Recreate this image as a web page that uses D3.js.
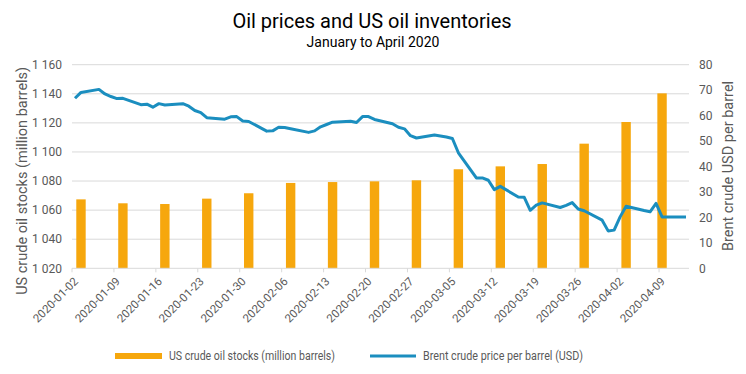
<!DOCTYPE html>
<html lang="en">
<head>
    <meta charset="UTF-8">
    <script src="https://d3js.org/d3.v7.min.js"></script>
    <style>
        body { margin: 0; background: #fff; }
        text { font-family: Roboto, "Noto Sans", sans-serif; }
    </style>
</head>
<body>
    <div id="chart"></div>
    <script>
        // weekly US crude stocks incl. SPR (million barrels)
        var stockDates = ["2020-01-03","2020-01-10","2020-01-17","2020-01-24","2020-01-31",
                          "2020-02-07","2020-02-14","2020-02-21","2020-02-28","2020-03-06",
                          "2020-03-13","2020-03-20","2020-03-27","2020-04-03","2020-04-09"];
        var stocks = [1067.4, 1064.7, 1064.2, 1067.9, 1071.6, 1078.7, 1079.3, 1079.8,
                      1080.5, 1088.1, 1090.1, 1091.7, 1105.7, 1120.6, 1140.3];

        // Brent daily (USD per barrel)
        var priceDates = ["2020-01-02","2020-01-03","2020-01-06","2020-01-07","2020-01-08","2020-01-09","2020-01-10",
                          "2020-01-13","2020-01-14","2020-01-15","2020-01-16","2020-01-17",
                          "2020-01-20","2020-01-21","2020-01-22","2020-01-23","2020-01-24",
                          "2020-01-27","2020-01-28","2020-01-29","2020-01-30","2020-01-31",
                          "2020-02-03","2020-02-04","2020-02-05","2020-02-06","2020-02-07",
                          "2020-02-10","2020-02-11","2020-02-12","2020-02-13","2020-02-14",
                          "2020-02-17","2020-02-18","2020-02-19","2020-02-20","2020-02-21",
                          "2020-02-24","2020-02-25","2020-02-26","2020-02-27","2020-02-28",
                          "2020-03-02","2020-03-03","2020-03-04","2020-03-05","2020-03-06",
                          "2020-03-09","2020-03-10","2020-03-11","2020-03-12","2020-03-13",
                          "2020-03-16","2020-03-17","2020-03-18","2020-03-19","2020-03-20",
                          "2020-03-23","2020-03-24","2020-03-25","2020-03-26","2020-03-27",
                          "2020-03-30","2020-03-31","2020-04-01","2020-04-02","2020-04-03",
                          "2020-04-06","2020-04-07","2020-04-08","2020-04-09","2020-04-13"];
        var prices = [66.8, 69.1, 70.3, 68.5, 67.5, 66.7, 66.8,
                      64.3, 64.5, 63.3, 64.7, 64.2,
                      64.7, 63.7, 62.0, 61.2, 59.2,
                      58.6, 59.5, 59.6, 57.9, 57.7,
                      53.9, 54.0, 55.4, 55.3, 54.8,
                      53.4, 54.0, 55.6, 56.5, 57.4,
                      57.8, 57.3, 59.6, 59.6, 58.5,
                      56.8, 55.4, 54.8, 52.1, 51.2,
                      52.4, 52.0, 51.6, 51.0, 45.4,
                      35.5, 35.5, 34.6, 30.9, 32.2,
                      28.0, 27.9, 22.8, 24.8, 25.7,
                      23.9, 24.7, 25.8, 23.3, 22.6,
                      18.9, 14.7, 15.0, 20.2, 24.4,
                      22.7, 22.2, 25.5, 20.2, 20.2];

        var tickLabels = ["2020-01-02","2020-01-09","2020-01-16","2020-01-23","2020-01-30",
                          "2020-02-06","2020-02-13","2020-02-20","2020-02-27","2020-03-05",
                          "2020-03-12","2020-03-19","2020-03-26","2020-04-02","2020-04-09"];
        var leftTicks = [1020, 1040, 1060, 1080, 1100, 1120, 1140, 1160];
        var rightTicks = [0, 10, 20, 30, 40, 50, 60, 70, 80];

        var width = 746, height = 374;
        var plotL = 72, plotR = 689, plotT = 64.7, plotB = 268.3;
        var grey = "#595959";

        var parse = d3.utcParse("%Y-%m-%d");

        var svg = d3.select("#chart").append("svg")
            .attr("width", width)
            .attr("height", height);

        var x = d3.scaleUtc()
            .domain([parse("2020-01-02"), parse("2020-04-14")])
            .range([plotL, plotR]);
        var dayW = x(parse("2020-01-03")) - x(parse("2020-01-02"));

        var yL = d3.scaleLinear().domain([1020, 1160]).range([plotB, plotT]);
        var yR = d3.scaleLinear().domain([0, 80]).range([plotB, plotT]);

        var fmt = function (d) { return d3.format(",")(d).replace(",", " "); };

        // gridlines
        svg.append("g")
            .selectAll("line")
            .data(leftTicks.slice(1))
            .enter().append("line")
            .attr("x1", plotL).attr("x2", plotR)
            .attr("y1", function (d) { return yL(d); })
            .attr("y2", function (d) { return yL(d); })
            .attr("stroke", "#d9d9d9").attr("stroke-width", 1);

        // bars
        var barW = 9.4;
        svg.append("g")
            .selectAll("rect")
            .data(stocks)
            .enter().append("rect")
            .attr("x", function (d, i) { return x(parse(stockDates[i])) + dayW / 2 - barW / 2; })
            .attr("width", barW)
            .attr("y", function (d) { return yL(d); })
            .attr("height", function (d) { return yL(1020) - yL(d); })
            .attr("fill", "#f6a70d");

        // x axis line + ticks
        svg.append("line")
            .attr("x1", plotL).attr("x2", plotR)
            .attr("y1", plotB).attr("y2", plotB)
            .attr("stroke", "#d9d9d9").attr("stroke-width", 1);

        svg.append("g")
            .selectAll("line")
            .data(tickLabels)
            .enter().append("line")
            .attr("x1", function (d) { return x(parse(d)); })
            .attr("x2", function (d) { return x(parse(d)); })
            .attr("y1", plotB).attr("y2", plotB + 4)
            .attr("stroke", "#d9d9d9").attr("stroke-width", 1);

        svg.append("g")
            .selectAll("text")
            .data(tickLabels)
            .enter().append("text")
            .attr("transform", function (d) {
                return "translate(" + (x(parse(d)) + dayW / 2 + 1) + "," + (plotB + 11) + ") rotate(-45)";
            })
            .attr("text-anchor", "end")
            .attr("dy", "0.35em")
            .attr("font-size", 11.5)
            .attr("fill", grey)
            .text(function (d) { return d; });

        // line
        var line = d3.line()
            .x(function (d, i) { return x(parse(priceDates[i])) + dayW / 2; })
            .y(function (d) { return yR(d); });

        svg.append("path")
            .datum(prices)
            .attr("d", line)
            .attr("fill", "none")
            .attr("stroke", "#1b8ebf")
            .attr("stroke-width", 3)
            .attr("stroke-linejoin", "round");

        // left axis labels
        svg.append("g")
            .selectAll("text")
            .data(leftTicks)
            .enter().append("text")
            .attr("x", 62)
            .attr("y", function (d) { return yL(d); })
            .attr("dy", "0.35em")
            .attr("text-anchor", "end")
            .attr("font-size", 12)
            .attr("fill", grey)
            .text(fmt);

        // right axis labels
        svg.append("g")
            .selectAll("text")
            .data(rightTicks)
            .enter().append("text")
            .attr("x", 699)
            .attr("y", function (d) { return yR(d); })
            .attr("dy", "0.35em")
            .attr("font-size", 12)
            .attr("fill", grey)
            .text(function (d) { return d; });

        // axis titles
        svg.append("text")
            .attr("transform", "translate(27," + ((plotT + 297) / 2) + ") rotate(-90)")
            .attr("text-anchor", "middle")
            .attr("font-size", 14.5)
            .attr("fill", grey)
            .text("US crude oil stocks (million barrels)");

        svg.append("text")
            .attr("transform", "translate(733,166) rotate(-90)")
            .attr("text-anchor", "middle")
            .attr("font-size", 14.5)
            .attr("fill", grey)
            .text("Brent crude USD per barrel");

        // titles
        svg.append("text")
            .attr("x", 372).attr("y", 28)
            .attr("text-anchor", "middle")
            .attr("font-size", 20)
            .attr("fill", "#000")
            .text("Oil prices and US oil inventories");

        svg.append("text")
            .attr("x", 373).attr("y", 47)
            .attr("text-anchor", "middle")
            .attr("font-size", 14)
            .attr("fill", "#000")
            .text("January to April 2020");

        // legend
        var legend = svg.append("g");
        legend.append("rect")
            .attr("x", 115).attr("y", 353)
            .attr("width", 47).attr("height", 6)
            .attr("fill", "#f6a70d");
        legend.append("text")
            .attr("x", 169).attr("y", 356)
            .attr("dy", "0.35em")
            .attr("font-size", 12)
            .attr("textLength", 166)
            .attr("lengthAdjust", "spacingAndGlyphs")
            .attr("fill", grey)
            .text("US crude oil stocks (million barrels)");
        legend.append("line")
            .attr("x1", 370).attr("x2", 416)
            .attr("y1", 356).attr("y2", 356)
            .attr("stroke", "#1b8ebf").attr("stroke-width", 3);
        legend.append("text")
            .attr("x", 423).attr("y", 356)
            .attr("dy", "0.35em")
            .attr("font-size", 12)
            .attr("textLength", 160)
            .attr("lengthAdjust", "spacingAndGlyphs")
            .attr("fill", grey)
            .text("Brent crude price per barrel (USD)");
    </script>
</body>
</html>
